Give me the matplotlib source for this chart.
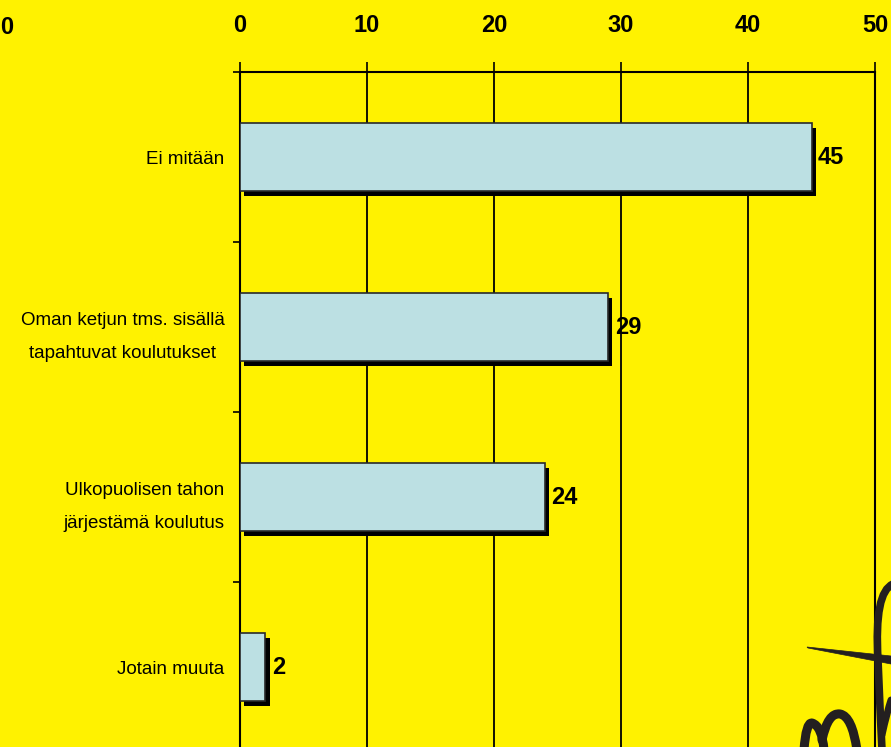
import matplotlib
matplotlib.use("Agg")
import matplotlib.pyplot as plt
import matplotlib.patheffects as pe
from matplotlib.path import Path
from matplotlib.patches import PathPatch, Polygon

# data
categories = ["Ei mitään",
              "Oman ketjun tms. sisällä\ntapahtuvat koulutukset",
              "Ulkopuolisen tahon\njärjestämä koulutus",
              "Jotain muuta"]
values = [45, 29, 24, 2]
xticks = [0, 10, 20, 30, 40, 50]

YELLOW = "#fff200"
BAR = "#bce0e3"
FONT = ["Liberation Sans", "DejaVu Sans"]

W, H = 891, 747
fig = plt.figure(figsize=(W / 100, H / 100), dpi=100, facecolor=YELLOW)
ax = fig.add_axes([240 / W, -5 / H, 635 / W, 680 / H])
ax.set_facecolor(YELLOW)

ypos = list(range(len(categories)))
shadow = [pe.SimplePatchShadow(offset=(3, -3.5), shadow_rgbFace="black", alpha=1), pe.Normal()]
bars = ax.barh(ypos, values, height=0.4, color=BAR, edgecolor="#2a2a2a",
               linewidth=1.2, zorder=3)
for b in bars:
    b.set_path_effects(shadow)

for y, v in zip(ypos, values):
    ax.text(v + 0.5, y, str(v), va="center", ha="left", fontsize=17,
            fontweight="bold", family=FONT, zorder=4)

ax.set_xlim(0, 50)
ax.set_ylim(len(categories) - 0.5, -0.5)
ax.xaxis.tick_top()
ax.set_xticks(xticks)
ax.set_xticklabels([str(t) for t in xticks], fontsize=17, fontweight="bold", family=FONT)
ax.tick_params(axis="x", length=7, width=1.2, pad=18)
ax.set_yticks([y - 0.5 for y in ypos])
ax.set_yticklabels([])
ax.set_yticks(ypos, minor=True)
ax.set_yticklabels(categories, minor=True, fontsize=13.5, family=FONT,
                   ha="right", multialignment="center", linespacing=2.2)
ax.tick_params(axis="y", which="major", length=5, width=1.2)
ax.tick_params(axis="y", which="minor", length=0, pad=11)
ax.grid(axis="x", color="black", linewidth=1.3, zorder=1)
for s in ["top", "left", "right"]:
    ax.spines[s].set_linewidth(1.5)
ax.spines["bottom"].set_visible(False)

fig.text(0 / W, 1 - 27 / H, "0", fontsize=17, fontweight="bold", family=FONT,
         ha="left", va="center")

# decorative logo in the bottom right corner (pixel coords)
def px(points):
    return [(x / W, 1 - y / H) for x, y in points]

INK = "#231f20"
fig.patches.append(Polygon(px([(807, 647), (891, 656), (891, 664), (808, 648)]),
                           closed=True, transform=fig.transFigure,
                           facecolor=INK, edgecolor=INK, linewidth=0.5))
C = Path.CURVE3
strokes = [
    ([(893, 584), (874, 592), (878, 660), (880, 710), (882, 750)],
     [Path.MOVETO, C, C, C, C], 5.5),
    ([(882, 735), (887, 712), (891, 700)], [Path.MOVETO, C, C], 5),
    ([(804, 750), (806, 722), (812, 723), (822, 726), (824, 750)],
     [Path.MOVETO, C, C, C, C], 6.5),
    ([(822, 740), (828, 712), (840, 714), (852, 716), (857, 750)],
     [Path.MOVETO, C, C, C, C], 6.5),
]
for pts, codes, lw in strokes:
    fig.patches.append(PathPatch(Path(px(pts), codes), transform=fig.transFigure,
                                 fill=False, edgecolor=INK, linewidth=lw,
                                 capstyle="round", joinstyle="round"))

fig.savefig("out.png", dpi=100, facecolor=YELLOW)
